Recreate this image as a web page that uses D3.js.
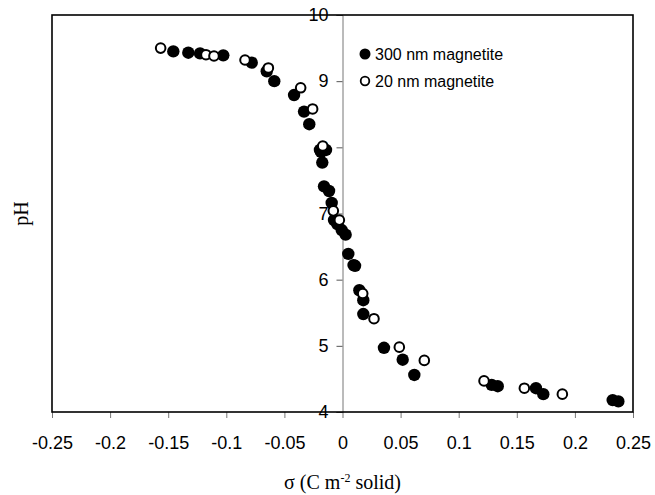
<!DOCTYPE html>
<html>
<head>
<meta charset="utf-8">
<script src="https://cdn.jsdelivr.net/npm/d3@7"></script>
<style>
body{margin:0;background:#fff;}
svg{display:block;}
</style>
</head>
<body>
<script>
var width=655,height=495;

// 300 nm magnetite (filled)
var sigma300=[-0.1456,-0.1327,-0.1226,-0.1026,-0.0781,-0.0652,-0.0587,-0.0417,-0.0331,-0.0286,
	-0.0194,-0.0185,-0.0142,-0.0174,-0.0159,-0.0116,-0.0093,-0.0073,-0.0045,-0.0007,
	0.0027,0.0050,0.0095,0.0108,0.0145,0.0179,0.0179,0.0357,0.0518,0.0618,
	0.1284,0.1336,0.1665,0.1728,0.2325,0.2374];
var ph300=[9.45,9.43,9.42,9.39,9.28,9.15,9.00,8.79,8.54,8.35,
	7.96,7.93,7.96,7.77,7.41,7.34,7.16,6.90,6.84,6.75,
	6.68,6.39,6.22,6.21,5.84,5.69,5.48,4.97,4.79,4.56,
	4.41,4.39,4.36,4.27,4.18,4.16];
// 20 nm magnetite (open)
var sigma20=[-0.1565,-0.1175,-0.1106,-0.0839,-0.0638,-0.0360,-0.0257,-0.0170,-0.0079,-0.0027,
	0.0174,0.0271,0.0489,0.0704,0.1218,0.1565,0.1892];
var ph20=[9.50,9.40,9.38,9.32,9.20,8.90,8.58,8.02,7.04,6.90,
	5.79,5.41,4.98,4.78,4.47,4.36,4.27];

var xTicks=[-0.25,-0.2,-0.15,-0.1,-0.05,0,0.05,0.1,0.15,0.2,0.25];
var yTicks=[4,5,6,7,8,9,10];
var legendLabels=["300 nm magnetite","20 nm magnetite"];

var mLeft=52,mRight=633,mTop=15,mBottom=412;

var svg=d3.select("body").append("svg")
	.attr("width",width)
	.attr("height",height);

var x=d3.scaleLinear().domain([-0.25,0.25]).range([mLeft,mRight]);
var y=d3.scaleLinear().domain([4,10]).range([mBottom,mTop]);

function fmt(d){ return d===0 ? "0" : String(+d.toFixed(2)); }

// x axis ticks below frame
var xAxis=svg.append("g")
	.attr("transform","translate(0,"+mBottom+")")
	.call(d3.axisBottom(x).tickValues(xTicks).tickFormat(fmt).tickSize(6).tickPadding(18));
xAxis.select(".domain").remove();
xAxis.selectAll("line").attr("stroke","#777");
xAxis.selectAll("text").attr("font-family","Liberation Sans, Arial, sans-serif").attr("font-size",18).attr("fill","#000");

// y axis on the zero line
var yAxis=svg.append("g")
	.attr("transform","translate("+x(0)+",0)")
	.call(d3.axisLeft(y).tickValues(yTicks).tickFormat(fmt).tickSize(6).tickPadding(8));
yAxis.select(".domain").attr("stroke","#777").attr("stroke-width",1);
yAxis.selectAll("line").attr("stroke","#555");
yAxis.selectAll("text").attr("font-family","Liberation Sans, Arial, sans-serif").attr("font-size",18).attr("fill","#000");

// frame
svg.append("rect")
	.attr("x",mLeft).attr("y",mTop)
	.attr("width",mRight-mLeft).attr("height",mBottom-mTop)
	.attr("fill","none").attr("stroke","#000").attr("stroke-width",1.6);

// points
svg.append("g").selectAll("circle")
	.data(d3.range(sigma300.length))
	.enter().append("circle")
	.attr("cx",function(i){return x(sigma300[i]);})
	.attr("cy",function(i){return y(ph300[i]);})
	.attr("r",6.2)
	.attr("fill","#000");

svg.append("g").selectAll("circle")
	.data(d3.range(sigma20.length))
	.enter().append("circle")
	.attr("cx",function(i){return x(sigma20[i]);})
	.attr("cy",function(i){return y(ph20[i]);})
	.attr("r",4.8)
	.attr("fill","#fff")
	.attr("stroke","#000")
	.attr("stroke-width",2);

// legend
var legend=svg.append("g").selectAll("g")
	.data(legendLabels)
	.enter().append("g")
	.attr("transform",function(d,i){return "translate(365,"+(54+i*27)+")";});
legend.append("circle")
	.attr("r",function(d,i){return i===0?5.5:4.3;})
	.attr("fill",function(d,i){return i===0?"#000":"#fff";})
	.attr("stroke","#000")
	.attr("stroke-width",function(d,i){return i===0?0:1.8;});
legend.append("text")
	.attr("x",10)
	.attr("dy","0.35em")
	.attr("font-family","Liberation Sans, Arial, sans-serif")
	.attr("font-size",16)
	.text(function(d){return d;});

// axis titles
var xt=svg.append("text")
	.attr("x",x(0))
	.attr("y",489)
	.attr("text-anchor","middle")
	.attr("font-family","Liberation Serif, Times New Roman, serif")
	.attr("font-size",20);
xt.append("tspan").text("σ (C m");
xt.append("tspan").attr("dy",-7).attr("font-size",12).text("-2");
xt.append("tspan").attr("dy",7).text(" solid)");

svg.append("text")
	.attr("transform","translate(28,"+((mTop+mBottom)/2)+") rotate(-90)")
	.attr("text-anchor","middle")
	.attr("font-family","Liberation Serif, Times New Roman, serif")
	.attr("font-size",20)
	.text("pH");
</script>
</body>
</html>
